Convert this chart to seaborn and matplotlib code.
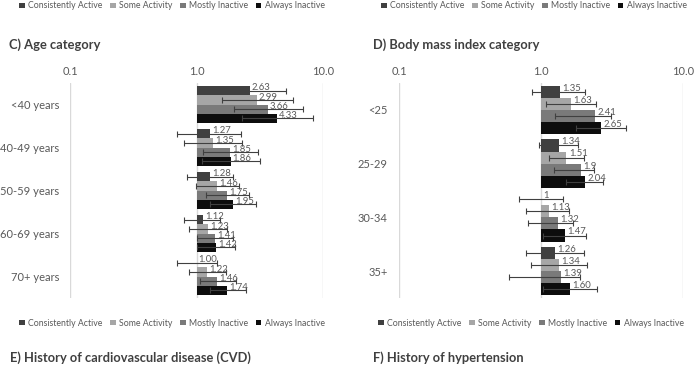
import matplotlib
matplotlib.use("Agg")
import matplotlib.pyplot as plt
from matplotlib.patches import Patch
from matplotlib.ticker import FixedLocator, FixedFormatter
import seaborn as sns
import pandas as pd

sns.set_style("white")
plt.rcParams["font.family"] = ["Lato", "DejaVu Sans"]

groups = ["Consistently Active", "Some Activity", "Mostly Inactive", "Always Inactive"]
colors = ["#404040", "#a6a6a6", "#7a7a7a", "#0d0d0d"]

# C) Age category - odds ratios with 95% CI (one list per activity group)
age_cats = ["<40 years", "40-49 years", "50-59 years", "60-69 years", "70+ years"]
age_or = [[2.63, 1.27, 1.28, 1.12, 1.00],
          [2.99, 1.35, 1.46, 1.23, 1.22],
          [3.66, 1.85, 1.75, 1.41, 1.46],
          [4.33, 1.86, 1.95, 1.42, 1.74]]
age_lo = [[1.37, 0.70, 0.84, 0.79, 0.70],
          [1.58, 0.80, 0.99, 0.88, 0.87],
          [1.97, 1.13, 1.18, 1.01, 1.06],
          [2.31, 1.10, 1.29, 1.00, 1.27]]
age_hi = [[5.09, 2.24, 1.95, 1.53, 1.44],
          [5.75, 2.31, 2.17, 1.75, 1.70],
          [6.90, 3.07, 2.60, 1.95, 2.04],
          [8.38, 3.18, 2.94, 2.01, 2.45]]
age_lbl = [["2.63", "1.27", "1.28", "1.12", "1.00"],
           ["2.99", "1.35", "1.46", "1.23", "1.22"],
           ["3.66", "1.85", "1.75", "1.41", "1.46"],
           ["4.33", "1.86", "1.95", "1.42", "1.74"]]

# D) Body mass index category
bmi_cats = ["<25", "25-29", "30-34", "35+"]
bmi_or = [[1.35, 1.34, 1.00, 1.26],
          [1.63, 1.51, 1.13, 1.34],
          [2.41, 1.90, 1.32, 1.39],
          [2.65, 2.04, 1.47, 1.60]]
bmi_lo = [[0.87, 0.97, 0.70, 0.78],
          [1.08, 1.13, 0.79, 0.85],
          [1.25, 1.24, 0.81, 0.60],
          [1.76, 1.49, 1.04, 1.03]]
bmi_hi = [[2.04, 1.81, 1.42, 2.01],
          [2.43, 2.02, 1.58, 2.12],
          [3.11, 2.37, 1.67, 1.88],
          [3.95, 2.75, 2.06, 2.49]]
bmi_lbl = [["1.35", "1.34", "1", "1.26"],
           ["1.63", "1.51", "1.13", "1.34"],
           ["2.41", "1.9", "1.32", "1.39"],
           ["2.65", "2.04", "1.47", "1.60"]]

txt = "#595959"
W, H = 696, 365
fig = plt.figure(figsize=(W / 100, H / 100), dpi=100)


def panel(rect, cats, vals, lo, hi, lbl, width):
    ax = fig.add_axes(rect)
    rows = []
    for g, name in enumerate(groups):
        for i, c in enumerate(cats):
            rows.append({"cat": c, "group": name, "val": vals[g][i],
                         "lo": lo[g][i], "hi": hi[g][i], "lbl": lbl[g][i]})
    df = pd.DataFrame(rows)
    sns.barplot(data=df, y="cat", x="val", hue="group", hue_order=groups,
                order=cats, palette=colors, saturation=1, orient="h",
                width=width, errorbar=None, legend=False, ax=ax, zorder=2)
    ax.set_xscale("log")
    # match patches to rows: category from centre, group from order inside category
    info = []
    for p in ax.patches:
        yc = p.get_y() + p.get_height() / 2
        info.append((int(round(yc)), yc, p))
    for i, c in enumerate(cats):
        sub = sorted([t for t in info if t[0] == i], key=lambda t: t[1])
        for g, (_, yc, p) in enumerate(sub):
            r = df[(df.cat == c) & (df.group == groups[g])].iloc[0]
            v = r.val
            # bars start at 1.0 (no effect) as in the original
            p.set_x(1.0)
            p.set_width(v - 1.0)
            p.set_linewidth(0)
            ax.errorbar(v, yc, xerr=[[v - r.lo], [r.hi - v]], fmt="none",
                        ecolor="#404040", elinewidth=0.8, capsize=2.2,
                        capthick=0.8, zorder=3)
            ax.text(v * 1.04, yc - p.get_height() * 0.3, r.lbl, fontsize=6.8,
                    color=txt, ha="left", va="center", zorder=4)
    ax.set_xlim(0.1, 10)
    ax.set_ylim(len(cats) - 0.5, -0.5)
    for xv in [0.1, 1, 10]:
        ax.axvline(xv, color="#d9d9d9", lw=1.0, zorder=1)
    ax.xaxis.tick_top()
    ax.xaxis.set_major_locator(FixedLocator([0.1, 1, 10]))
    ax.xaxis.set_major_formatter(FixedFormatter(["0.1", "1.0", "10.0"]))
    ax.xaxis.set_minor_locator(FixedLocator([]))
    ax.tick_params(axis="x", length=0, pad=4, labelsize=8, labelcolor=txt)
    ax.tick_params(axis="y", length=0, pad=8, labelsize=8, labelcolor=txt)
    ax.set_xlabel("")
    ax.set_ylabel("")
    for s in ax.spines.values():
        s.set_visible(False)
    return ax


axC = panel([70 / W, 1 - 298 / H, 253 / W, 215 / H], age_cats, age_or,
            age_lo, age_hi, age_lbl, 0.86)
axD = panel([399 / W, 1 - 298 / H, 284 / W, 215 / H], bmi_cats, bmi_or,
            bmi_lo, bmi_hi, bmi_lbl, 0.9)

handles = [Patch(facecolor=c, edgecolor="none") for c in colors]


def legend(xc, yc):
    leg = fig.legend(handles, groups, loc="center", bbox_to_anchor=(xc / W, 1 - yc / H),
                     ncol=4, frameon=False, fontsize=6.3, handlelength=0.6,
                     handleheight=0.6, handletextpad=0.35, columnspacing=0.95,
                     borderpad=0, borderaxespad=0)
    for t in leg.get_texts():
        t.set_color(txt)


legend(172, 6)
legend(534, 6)
legend(172, 323)
legend(531, 323)

title_kw = dict(fontsize=9.3, fontweight="bold", color="#404040", ha="left", va="center")
fig.text(9 / W, 1 - 45 / H, "C) Age category", **title_kw)
fig.text(373 / W, 1 - 45 / H, "D) Body mass index category", **title_kw)
fig.text(10 / W, 1 - 358 / H, "E) History of cardiovascular disease (CVD)", **title_kw)
fig.text(373 / W, 1 - 358 / H, "F) History of hypertension", **title_kw)

fig.savefig("out.png", dpi=100)
